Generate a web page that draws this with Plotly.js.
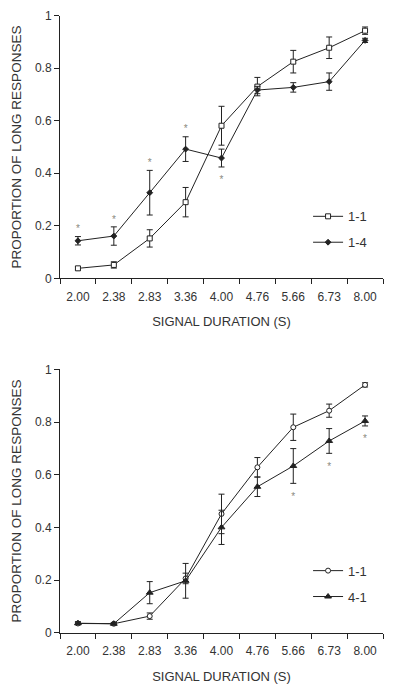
<!DOCTYPE html>
<html><head><meta charset="utf-8">
<script src="https://cdn.plot.ly/plotly-3.0.1.min.js"></script>
<style>html,body{margin:0;padding:0;background:#fff}#chart{width:400px;height:692px}</style>
</head><body><div id="chart"></div>
<script>
// Categories (signal duration, s)
const durations = ["2.00","2.38","2.83","3.36","4.00","4.76","5.66","6.73","8.00"];

// Top panel
const top11 = [0.038,0.051,0.152,0.290,0.581,0.730,0.825,0.878,0.943];
const top11Err = [0.006,0.012,0.033,0.056,0.074,0.035,0.043,0.041,0.014];
const top14 = [0.143,0.161,0.326,0.492,0.458,0.717,0.727,0.749,0.906];
const top14Err = [0.016,0.035,0.085,0.047,0.034,0.014,0.018,0.033,0.008];
const topSig = ["above","above","above","above","below","","","",""];

// Bottom panel
const bot11 = [0.035,0.034,0.063,0.206,0.451,0.628,0.780,0.843,0.941];
const bot11Err = [0.004,0.004,0.012,0.020,0.075,0.037,0.050,0.025,0.008];
const bot41 = [0.036,0.034,0.152,0.197,0.400,0.554,0.633,0.728,0.804];
const bot41Err = [0.006,0.004,0.042,0.066,0.065,0.037,0.066,0.047,0.019];
const botSig = ["","","","","","","below","below","below"];

const ink = "#222";
const txt = "#333";
const fontFam = "Liberation Sans, Arial, sans-serif";

function series(name, x, y, err, symbol, fill, size, xa, ya, legend, group) {
  return {
    type: "scatter", mode: "lines+markers", name: name, x: x, y: y,
    xaxis: xa, yaxis: ya, legend: legend, legendgroup: group,
    line: {color: ink, width: 1},
    marker: {symbol: symbol, size: size, color: fill, line: {color: ink, width: 1}},
    error_y: {type: "data", array: err, visible: true, color: ink, thickness: 1, width: 3}
  };
}

function stars(sig, vals, errs, xa, ya) {
  const xs = [], ys = [];
  sig.forEach((s, i) => {
    if (s === "above") { xs.push(durations[i]); ys.push(vals[i] + errs[i] + 0.026); }
    else if (s === "below") { xs.push(durations[i]); ys.push(vals[i] - errs[i] - 0.052); }
  });
  return {type: "scatter", mode: "text", x: xs, y: ys, text: xs.map(() => "*"),
    textfont: {family: fontFam, size: 10, color: "#8a8a80"}, xaxis: xa, yaxis: ya,
    showlegend: false, hoverinfo: "skip"};
}

const traces = [
  series("1-1", durations, top11, top11Err, "square", "#fff", 5, "x", "y", "legend", "a"),
  series("1-4", durations, top14, top14Err, "diamond", ink, 4.5, "x", "y", "legend", "b"),
  stars(topSig, top14, top14Err, "x", "y"),
  series("1-1", durations, bot11, bot11Err, "circle", "#fff", 5, "x2", "y2", "legend2", "c"),
  series("4-1", durations, bot41, bot41Err, "triangle-up", ink, 6, "x2", "y2", "legend2", "d"),
  stars(botSig, bot41, bot41Err, "x2", "y2")
];

function xaxis(anchor) {
  return {
    type: "category", categoryorder: "array", categoryarray: durations,
    range: [-0.5, 8.5], anchor: anchor, tickson: "boundaries",
    showline: true, linecolor: ink, linewidth: 1, ticks: "outside", ticklen: 5,
    tickcolor: ink, showgrid: false, zeroline: false, ticklabelstandoff: 7,
    tickfont: {family: fontFam, size: 12, color: txt},
    title: {text: "SIGNAL DURATION (S)", font: {family: fontFam, size: 13, color: txt}, standoff: 14}
  };
}
function yaxis(anchor, domain) {
  return {
    range: [0, 1], dtick: 0.2, tick0: 0, anchor: anchor, domain: domain,
    showline: true, linecolor: ink, linewidth: 1, ticks: "outside", ticklen: 5,
    tickcolor: ink, showgrid: false, zeroline: false,
    tickfont: {family: fontFam, size: 12, color: txt},
    title: {text: "PROPORTION OF LONG RESPONSES", font: {family: fontFam, size: 13.5, color: txt}, standoff: 10}
  };
}

const legendStyle = (y) => ({
  x: 0.768, y: y, xanchor: "left", yanchor: "top", bgcolor: "rgba(0,0,0,0)",
  font: {family: fontFam, size: 13, color: txt}, tracegroupgap: 6, itemwidth: 30
});

const layout = {
  width: 400, height: 692, margin: {l: 60, r: 17, t: 0, b: 0},
  paper_bgcolor: "#fff", plot_bgcolor: "#fff", showlegend: true,
  xaxis: Object.assign(xaxis("y"), {domain: [0, 1]}),
  yaxis: yaxis("x", [0.5978, 0.9773]),
  xaxis2: Object.assign(xaxis("y2"), {domain: [0, 1]}),
  yaxis2: yaxis("x2", [0.0857, 0.4663]),
  legend: legendStyle(0.709),
  legend2: legendStyle(0.197)
};

Plotly.newPlot("chart", traces, layout, {displayModeBar: false, staticPlot: true});
</script></body></html>
